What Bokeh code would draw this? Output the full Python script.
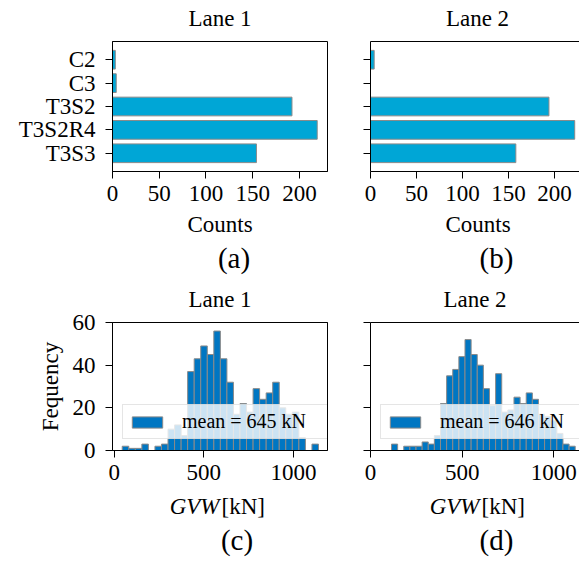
from bokeh.plotting import figure
from bokeh.models import (FactorRange, Range1d, FixedTicker, Legend,
                          LegendItem, LinearAxis)
from bokeh.core.properties import value
from bokeh.layouts import row, column
from bokeh.embed import file_html
from bokeh.resources import INLINE

# ---------------- data ----------------
categories = ["C2", "C3", "T3S2", "T3S2R4", "T3S3"]
counts_lane1 = [3, 4, 192, 219, 154]
counts_lane2 = [4, 0, 194, 222, 158]

gvw_bin_start_lane1 = 44.8
gvw_bin_width_lane1 = 36.5
gvw_freq_lane1 = [2, 1, 1, 3, 0, 2, 3, 10, 12, 7, 37, 43, 49, 45, 56,
                  43, 32, 17, 22, 18, 29, 24, 27, 32, 20, 17, 18, 6, 0, 3]
gvw_bin_start_lane2 = 114.6
gvw_bin_width_lane2 = 33.4
gvw_freq_lane2 = [3, 0, 2, 2, 2, 4, 3, 7, 22, 35, 38, 44, 52, 45, 40,
                  29, 21, 36, 18, 19, 25, 22, 27, 24, 17, 16, 14, 8, 3, 2]
gvw_mean = [645, 646]

lane_titles = ["Lane 1", "Lane 2"]
captions = ["(a)", "(b)", "(c)", "(d)"]
count_label = "Counts"
freq_label = "Fequency"
gvw_label = ["GVW", "[kN]"]
count_ticks = [0, 50, 100, 150, 200]
gvw_ticks = [0, 500, 1000]
freq_ticks = [0, 20, 40, 60]

FONT = "Liberation Serif"
BAR_COLOR = "#00A6D6"
HIST_COLOR = "#0076C2"
EDGE = "#8a8a8a"
W = 579


def style(p, ticks_x=None, ticks_y=None, hide_ylabels=False):
    p.xgrid.visible = False
    p.ygrid.visible = False
    p.background_fill_color = "white"
    p.border_fill_color = "white"
    for ax in list(p.xaxis) + list(p.yaxis):
        ax.axis_line_color = "black"
        ax.axis_line_width = 1
        ax.major_tick_line_color = "black"
        ax.major_tick_out = 7
        ax.major_tick_in = 0
        ax.minor_tick_line_color = None
        ax.major_label_text_font = FONT
        ax.major_label_text_font_size = "23px"
        ax.major_label_text_color = "black"
        ax.axis_label_text_font = FONT
        ax.axis_label_text_font_size = "23px"
        ax.axis_label_text_font_style = "normal"
        ax.axis_label_text_color = "black"
    for ax in p.xaxis:
        ax.major_label_standoff = 7
    for ax in p.yaxis:
        ax.major_label_standoff = 10
        ax.axis_label_standoff = 7
    if ticks_x is not None:
        p.xaxis.ticker = FixedTicker(ticks=ticks_x)
    if ticks_y is not None:
        p.yaxis.ticker = FixedTicker(ticks=ticks_y)
    if hide_ylabels:
        p.yaxis.major_label_text_font_size = "0px"
        p.yaxis.major_label_text_alpha = 0


def top_spine(p, keep_outline=False):
    if not keep_outline:
        p.outline_line_color = None
    ax = LinearAxis(axis_line_color="black", major_tick_line_color=None,
                    minor_tick_line_color=None, major_label_text_alpha=0,
                    major_label_text_font_size="0px", major_label_standoff=0)
    p.add_layout(ax, "above")


def strip(height):
    p = figure(width=W, height=height, output_backend="svg", toolbar_location=None,
               title=None, title_location=None,
               x_range=Range1d(0, W), y_range=Range1d(height, 0),
               x_axis_location=None, y_axis_location=None,
               min_border=0, min_border_left=0, min_border_right=0,
               min_border_top=0, min_border_bottom=0)
    p.outline_line_color = None
    p.background_fill_color = "white"
    p.border_fill_color = "white"
    p.xgrid.visible = False
    p.ygrid.visible = False
    return p


def texts(p, xs, ys, labels, align="center", size="23px", fstyle="normal"):
    p.text(x=xs, y=ys, text=labels, text_align=align, text_baseline="alphabetic",
           text_font=value(FONT), text_font_size=size, text_font_style=fstyle,
           text_color="black")


def bar_panel(counts, width, left, right, xmax, show_labels):
    p = figure(width=width, height=178, output_backend="svg", toolbar_location=None,
               title=None, title_location=None,
               y_range=FactorRange(factors=categories[::-1], range_padding=0.28,
                                   range_padding_units="absolute"),
               x_range=Range1d(0, xmax),
               min_border_left=left, min_border_right=right,
               min_border_top=6, min_border_bottom=42)
    p.hbar(y=categories, right=counts, left=0, height=0.8,
           fill_color=BAR_COLOR, line_color=EDGE, line_width=1)
    style(p, ticks_x=count_ticks, hide_ylabels=not show_labels)
    p.outline_line_color = "black"
    return p


def hist_panel(start, bw, freq, mean, width, left, right, xr, title, title_offset,
               title_standoff, show_labels):
    p = figure(width=width, height=217, output_backend="svg", toolbar_location=None,
               title=title, x_range=Range1d(*xr), y_range=Range1d(0, 60),
               min_border_left=left, min_border_right=right,
               min_border_top=47, min_border_bottom=42)
    p.title.align = "center"
    p.title.text_font = FONT
    p.title.text_font_size = "23px"
    p.title.text_font_style = "normal"
    p.title.text_color = "black"
    p.title.standoff = title_standoff
    p.title.offset = title_offset
    edges = [start + i * bw for i in range(len(freq) + 1)]
    r = p.quad(left=edges[:-1], right=edges[1:], bottom=0, top=freq,
               fill_color=HIST_COLOR, line_color=EDGE, line_width=1)
    style(p, ticks_x=gvw_ticks, ticks_y=freq_ticks, hide_ylabels=not show_labels)
    if show_labels:
        p.yaxis.axis_label = freq_label
    p.outline_line_color = "black"
    leg = Legend(items=[LegendItem(label=f"mean = {mean} kN", renderers=[r])],
                 location=(10, 11), glyph_width=38, glyph_height=14,
                 label_standoff=16, label_width=150, padding=5, spacing=0, margin=0,
                 label_text_font=FONT, label_text_font_size="20px",
                 label_text_color="black", label_text_baseline="middle",
                 border_line_color="#cccccc", border_line_width=1.5,
                 background_fill_color="white", background_fill_alpha=0.8)
    p.add_layout(leg)
    return p


# top titles
t1 = strip(35)
texts(t1, [219.5, 477], [18, 18], lane_titles)

# bar charts
pa = bar_panel(counts_lane1, 348, 112, 21, 230, True)
pb = bar_panel(counts_lane2, W - 348, 22, 0, 227.2, False)
top_spine(pb)

# x label, captions (a)(b)
c1 = strip(62)
texts(c1, [219.5, 477.5], [11, 11], [count_label, count_label])
texts(c1, [233.5, 496], [44, 44], captions[:2], size="29px")

# histograms (with lane titles)
pc = hist_panel(gvw_bin_start_lane1, gvw_bin_width_lane1, gvw_freq_lane1, gvw_mean[0],
                348, 112, 21, (-9.5, 1190), lane_titles[0], 0, 9, True)
top_spine(pc, keep_outline=True)
pd = hist_panel(gvw_bin_start_lane2, gvw_bin_width_lane2, gvw_freq_lane2, gvw_mean[1],
                W - 348, 22, 0, (0, 1140), lane_titles[1], 2.5, 9, False)
top_spine(pd)

# x label and captions (c)(d)
c2 = strip(70)
texts(c2, [219, 479], [14, 14], [gvw_label[0]] * 2, align="right", fstyle="italic")
texts(c2, [221, 481], [14, 14], [gvw_label[1]] * 2, align="left")
texts(c2, [236.5, 496], [47, 47], captions[2:], size="29px")

layout = column(t1, row(pa, pb, spacing=0), c1, row(pc, pd, spacing=0), c2, spacing=0)

open("out.html", "w").write(file_html(layout, INLINE))
